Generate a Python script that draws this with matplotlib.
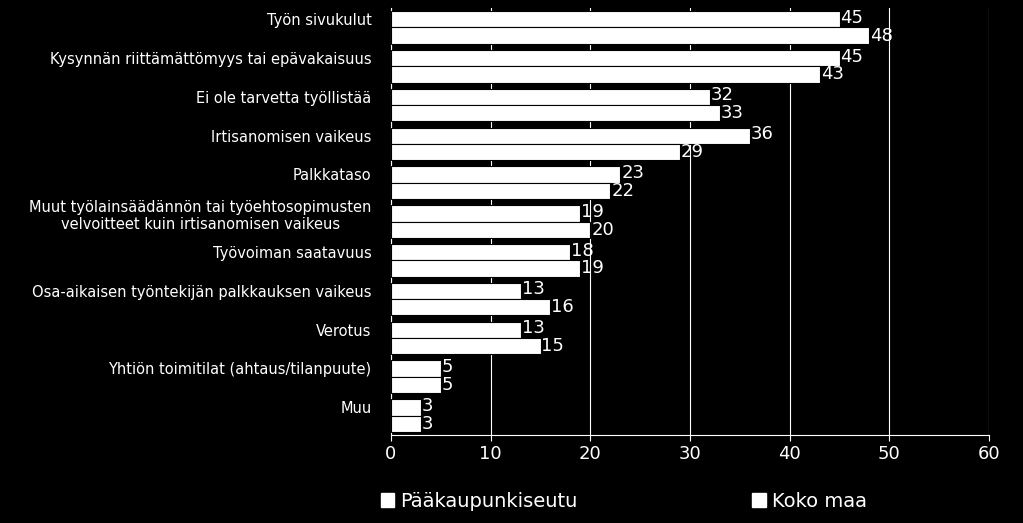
import matplotlib.pyplot as plt
import matplotlib.transforms as mtransforms
import numpy as np
from matplotlib.patches import Patch

categories = [
    "Työn sivukulut",
    "Kysynnän riittämättömyys tai epävakaisuus",
    "Ei ole tarvetta työllistää",
    "Irtisanomisen vaikeus",
    "Palkkataso",
    "Muut työlainsäädännön tai työehtosopimusten\nvelvoitteet kuin irtisanomisen vaikeus",
    "Työvoiman saatavuus",
    "Osa-aikaisen työntekijän palkkauksen vaikeus",
    "Verotus",
    "Yhtiön toimitilat (ahtaus/tilanpuute)",
    "Muu",
]
paakaupunkiseutu = [45, 45, 32, 36, 23, 19, 18, 13, 13, 5, 3]
koko_maa = [48, 43, 33, 29, 22, 20, 19, 16, 15, 5, 3]
xticks = [0, 10, 20, 30, 40, 50, 60]

fig = plt.figure(figsize=(10.23, 5.23), dpi=100, facecolor="black")
ax = fig.add_axes([391 / 1023, 1 - 435 / 523, 598 / 1023, 427 / 523], facecolor="black")

y = np.arange(len(categories))
h = 0.42
for vals, off, dy in ((paakaupunkiseutu, -h / 2, 0.04), (koko_maa, h / 2, 0.0)):
    ax.barh(y + off, vals, height=h, color="white", edgecolor="black", lw=0.8, zorder=3)
    for yi, v in zip(y + off, vals):
        ax.text(v + 0.1, yi - dy, f"{v}", color="white", va="center", ha="left", fontsize=13, zorder=4)

ax.set_ylim(len(categories) - 0.5, -0.5)
ax.set_xlim(0, 60)
ax.set_xticks(xticks)
ax.set_yticks(y)
ax.set_yticklabels(categories, fontsize=10.5, color="white", ha="right", multialignment="center")
ax.tick_params(axis="y", length=0, pad=14)
shift = mtransforms.ScaledTranslation(0, 6 / 72, fig.dpi_scale_trans)
for lbl in ax.get_yticklabels():
    lbl.set_transform(lbl.get_transform() + shift)
ax.tick_params(axis="x", colors="white", labelsize=13, length=4)
ax.grid(axis="x", color="white", lw=0.8, zorder=0)
for s in ("top", "right"):
    ax.spines[s].set_visible(False)
for s in ("left", "bottom"):
    ax.spines[s].set_color("white")

handles = [Patch(facecolor="white", edgecolor="white"), Patch(facecolor="white", edgecolor="white")]
fig.legend(handles, ["Pääkaupunkiseutu", "Koko maa"], loc="lower left", bbox_to_anchor=(0.355, -0.01),
           ncol=2, frameon=False, fontsize=14, labelcolor="white", columnspacing=9,
           handlelength=0.7, handleheight=0.7, handletextpad=0.3)

fig.savefig("out.png", dpi=100, facecolor="black")
